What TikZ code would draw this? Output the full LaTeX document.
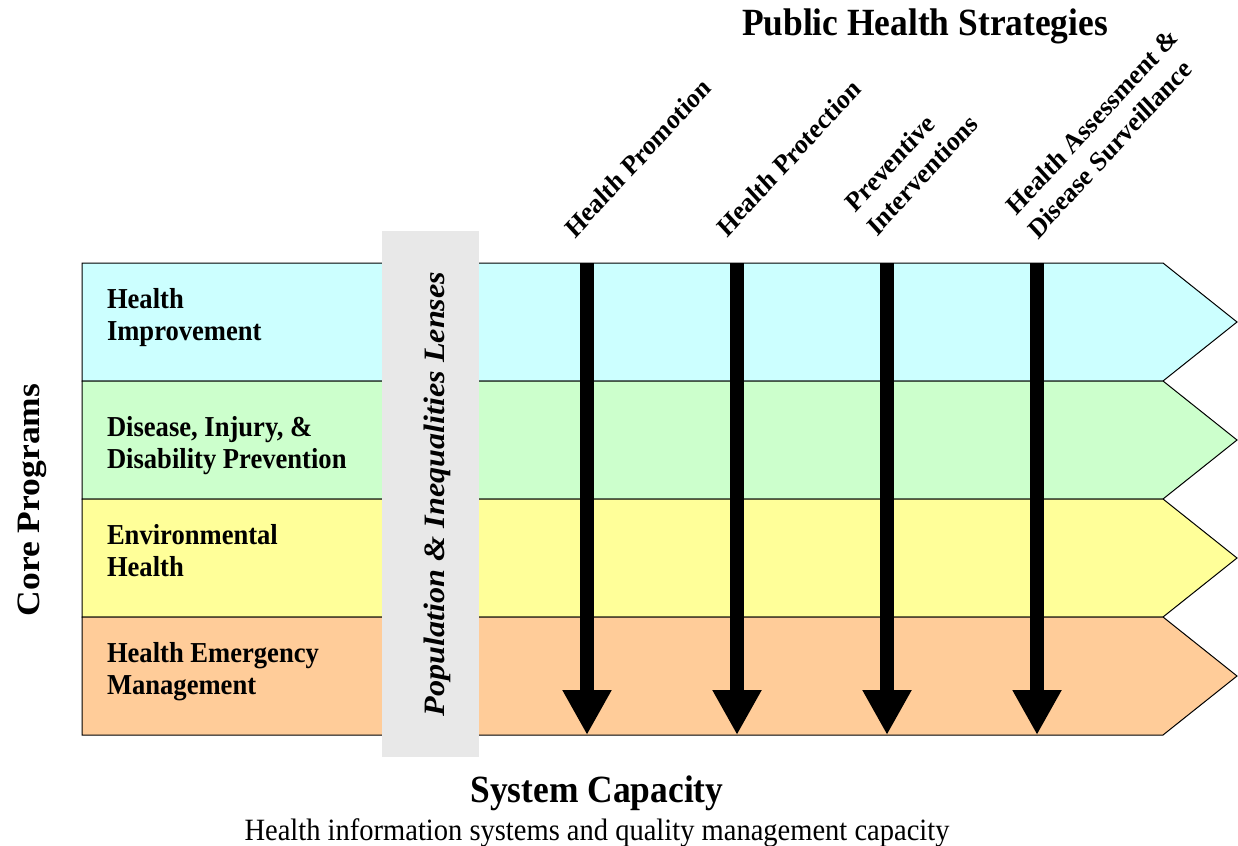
\documentclass[tikz,border=0pt]{standalone}
\usepackage{fontspec}
\setmainfont{Liberation Serif}
\usetikzlibrary{arrows.meta}
\definecolor{bandcyan}{HTML}{CCFFFF}
\definecolor{bandgreen}{HTML}{CCFFCC}
\definecolor{bandyellow}{HTML}{FFFF99}
\definecolor{bandorange}{HTML}{FFCC99}
\definecolor{lensgray}{HTML}{E8E8E8}
\begin{document}
\begin{tikzpicture}[x=1pt,y=-1pt,
  every node/.style={xscale=0.92, inner sep=0pt, outer sep=0pt},
  band/.style={draw=black, line width=1pt, line join=miter},
  lbl/.style={font=\fontsize{28.9}{32}\selectfont\bfseries, align=left, anchor=base west},
  strat/.style={font=\fontsize{27.5}{33}\selectfont\bfseries, align=left, rotate=45, anchor=base west},
  bigarrow/.style={line width=14pt, -{Triangle[width=46pt,length=45pt]}},
  titletext/.style={font=\fontsize{38.5}{40}\selectfont\bfseries, anchor=base}]
\useasboundingbox (0,0) rectangle (1238,845);
% bands
\foreach \yy/\col in {263/bandcyan,381/bandgreen,499/bandyellow,617/bandorange}{
  \draw[band, fill=\col] (82,\yy) -- (1163,\yy) -- (1237,\yy+59) -- (1163,\yy+118) -- (82,\yy+118) -- cycle;
}
% lens
\fill[lensgray] (382,231) rectangle (479,757);
\node[rotate=90, anchor=base, font=\fontsize{32.2}{34}\selectfont\bfseries\itshape] (lens) at (444,494) {Population \& Inequalities Lenses};
% band labels (anchor = baseline of last line)
\node[lbl] (hi) at (107,340) {Health\\Improvement};
\node[lbl] (dp) at (107,468) {Disease, Injury, \&\\Disability Prevention};
\node[lbl] (eh) at (107,576) {Environmental\\Health};
\node[lbl] (em) at (107,694) {Health Emergency\\Management};
% side titles
\node[rotate=90, anchor=base, font=\fontsize{35.5}{38}\selectfont\bfseries] (core) at (39,500) {Core Programs};
\node[titletext] (pubt) at (925,36) {Public Health Strategies};
\node[titletext] (sysc) at (597,802) {System Capacity};
\node[anchor=base, font=\fontsize{31}{33}\selectfont] (sysd) at (597,840) {Health information systems and quality management capacity};
% strategies (anchor = baseline start of last line)
\node[strat] (sp1) at (575,239) {Health Promotion};
\node[strat] (sp2) at (727,238) {Health Protection};
\node[strat] (sp3) at (877,237) {Preventive\\Interventions};
\node[strat] (sp4) at (1038,240) {Health Assessment \&\\Disease Surveillance};
% arrows
\foreach \i/\xx in {1/587,2/737,3/887,4/1037}{
  \coordinate (s\i) at (\xx,263);
  \coordinate (e\i) at (\xx,735);
}
\foreach \i in {1,2,3,4}{
  \draw[bigarrow] (s\i) -- (e\i);
}
\end{tikzpicture}
\end{document}
